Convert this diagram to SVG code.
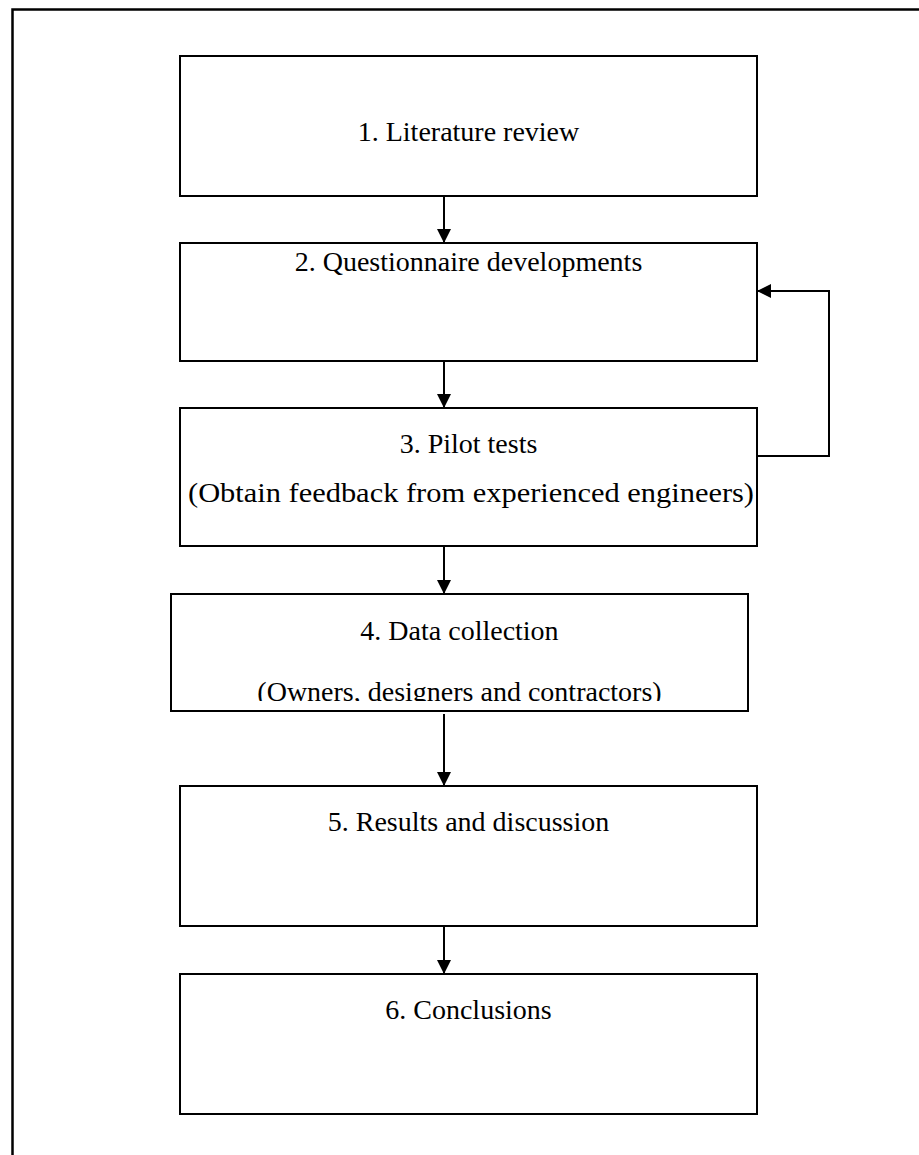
<svg xmlns="http://www.w3.org/2000/svg" width="919" height="1155" viewBox="0 0 919 1155">
<style>
.box{fill:#fff;stroke:#000;stroke-width:2}
.t{font-size:28px;fill:#000;text-anchor:middle}
.c{fill:none;stroke:#000;stroke-width:2}
</style>
<defs>
<marker id="ah" markerWidth="15" markerHeight="14" refX="14" refY="7" orient="auto" markerUnits="userSpaceOnUse">
<path d="M0,0 L14,7 L0,14 Z" fill="#000"/>
</marker>
<clipPath id="clip4"><rect x="171" y="594" width="577" height="107"/></clipPath>
</defs>
<rect width="919" height="1155" fill="#fff"/>
<path d="M12.5,1155 V9.5 H919" fill="none" stroke="#000" stroke-width="2.5"/>
<g font-family="Liberation Serif, Times New Roman, serif">
<g id="n1"><rect class="box" x="180" y="56" width="577" height="140"/><text class="t" x="468.5" y="141">1. Literature review</text></g>
<g id="n2"><rect class="box" x="180" y="243" width="577" height="118"/><text class="t" x="468.5" y="271">2. Questionnaire developments</text></g>
<g id="n3"><rect class="box" x="180" y="408" width="577" height="138"/><text class="t" x="468.5" y="453">3. Pilot tests</text><text class="t" x="471" y="502" textLength="566" lengthAdjust="spacingAndGlyphs">(Obtain feedback from experienced engineers)</text></g>
<g id="n4"><rect class="box" x="171" y="594" width="577" height="117"/><g clip-path="url(#clip4)"><text class="t" x="459.5" y="640">4. Data collection</text><text class="t" x="459.5" y="701">(Owners, designers and contractors)</text></g></g>
<g id="n5"><rect class="box" x="180" y="786" width="577" height="140"/><text class="t" x="468.5" y="831">5. Results and discussion</text></g>
<g id="n6"><rect class="box" x="180" y="974" width="577" height="140"/><text class="t" x="468.5" y="1019">6. Conclusions</text></g>
</g>
<g id="connectors">
<line class="c" x1="444" y1="196" x2="444" y2="243" marker-end="url(#ah)"/>
<line class="c" x1="444" y1="361" x2="444" y2="408" marker-end="url(#ah)"/>
<line class="c" x1="444" y1="546" x2="444" y2="594" marker-end="url(#ah)"/>
<line class="c" x1="444" y1="714" x2="444" y2="786" marker-end="url(#ah)"/>
<line class="c" x1="444" y1="926" x2="444" y2="974" marker-end="url(#ah)"/>
<polyline class="c" points="757,456 829,456 829,291 757,291" marker-end="url(#ah)"/>
</g>
</svg>
